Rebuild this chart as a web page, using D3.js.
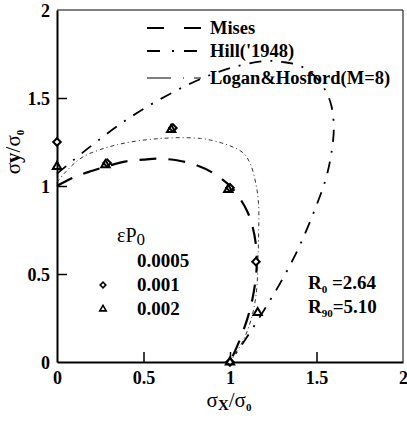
<!DOCTYPE html>
<html>
<head>
<meta charset="utf-8">
<script src="https://cdn.jsdelivr.net/npm/d3@7"></script>
<style>
  body { margin: 0; background: #fff; }
  text { font-family: "Liberation Serif", "Times New Roman", serif; }
</style>
</head>
<body>
<script>
// yield loci (sigma_x/sigma_0 , sigma_y/sigma_0)
var misesPts = [[0,1],[0.1,1.05],[0.2,1.085],[0.3,1.115],[0.4,1.14],[0.5,1.15],[0.58,1.155],[0.7,1.145],
  [0.8,1.12],[0.9,1.075],[1.0,1.0],[1.05,0.94],[1.1,0.855],[1.13,0.77],[1.15,0.665],[1.155,0.577],
  [1.15,0.485],[1.13,0.36],[1.1,0.245],[1.05,0.11],[1.0,0]];
var hillPts = [[0,1.07],[0.2,1.23],[0.4,1.375],[0.6,1.495],[0.8,1.595],[1.0,1.67],[1.2,1.71],[1.3,1.705],
  [1.4,1.685],[1.5,1.615],[1.55,1.545],[1.585,1.46],[1.6,1.33],[1.585,1.18],[1.555,1.045],[1.5,0.89],
  [1.4,0.655],[1.3,0.465],[1.2,0.3],[1.1,0.145],[1.0,0]];
var loganPts = [[0,1.02],[0.05,1.08],[0.15,1.165],[0.35,1.235],[0.6,1.27],[0.83,1.27],[0.95,1.245],
  [1.02,1.22],[1.08,1.185],[1.12,1.12],[1.15,1.01],[1.165,0.9],[1.165,0.7],[1.16,0.55],[1.155,0.42],
  [1.13,0.27],[1.08,0.13],[1.0,0]];

// experiments
var diamonds = [[0,1.25],[0.29,1.13],[0.67,1.33],[1.0,0.99],[1.15,0.57],[1.0,0]];   // 0.001
var triangles = [[0,1.11],[0.28,1.12],[0.66,1.32],[0.99,0.98],[1.16,0.28],[1.0,0]];  // 0.002

var ticks = [0, 0.5, 1, 1.5, 2];
var seriesNames = ["Mises", "Hill('1948)", "Logan&Hosford(M=8)"];
var strainLevels = ["0.0005", "0.001", "0.002"];

var width = 407, height = 421;
var x = d3.scaleLinear().domain([0, 2]).range([57, 403]);
var y = d3.scaleLinear().domain([0, 2]).range([362, 10]);

var svg = d3.select("body").append("svg")
    .attr("width", width)
    .attr("height", height);

// frame
svg.append("line").attr("x1", x(0)).attr("x2", x(2)).attr("y1", y(2)).attr("y2", y(2))
  .attr("stroke", "#000").attr("stroke-width", 1);
svg.append("line").attr("x1", x(2)).attr("x2", x(2)).attr("y1", y(2)).attr("y2", y(0))
  .attr("stroke", "#000").attr("stroke-width", 1);

var xAxis = svg.append("g")
    .attr("transform", "translate(0," + y(0) + ")")
    .call(d3.axisBottom(x).tickValues(ticks).tickSize(-10).tickSizeOuter(0).tickPadding(9)
      .tickFormat(function(d) { return d; }));
var yAxis = svg.append("g")
    .attr("transform", "translate(" + x(0) + ",0)")
    .call(d3.axisLeft(y).tickValues(ticks).tickSize(-10).tickSizeOuter(0).tickPadding(7)
      .tickFormat(function(d) { return d; }));

[xAxis, yAxis].forEach(function(a) {
  a.select(".domain").attr("stroke-width", 2);
  a.selectAll(".tick line").attr("stroke-width", 1.5);
  a.selectAll(".tick text")
    .style("font-family", "Liberation Serif")
    .style("font-weight", "bold")
    .style("font-size", "18px")
    .attr("fill", "#000");
});
yAxis.selectAll(".tick text").attr("dy", "0.36em");
xAxis.selectAll(".tick").filter(function(d) { return d == 0 || d == 2; }).select("line").remove();
yAxis.selectAll(".tick").filter(function(d) { return d == 0 || d == 2; }).select("line").remove();

var line = d3.line()
    .x(function(d) { return x(d[0]); })
    .y(function(d) { return y(d[1]); })
    .curve(d3.curveCatmullRom);

svg.append("path").datum(misesPts).attr("d", line)
  .attr("fill", "none").attr("stroke", "#000").attr("stroke-width", 2.2)
  .attr("stroke-dasharray", "17,12");
svg.append("path").datum(hillPts).attr("d", line)
  .attr("fill", "none").attr("stroke", "#000").attr("stroke-width", 1.8)
  .attr("stroke-dasharray", "12,9,2,9");
svg.append("path").datum(loganPts).attr("d", line)
  .attr("fill", "none").attr("stroke", "#333").attr("stroke-width", 1)
  .attr("stroke-dasharray", "4,3,1,3");

// diamond = square turned 45 degrees
var diamond = d3.symbol().type(d3.symbolSquare).size(28);
var triangle = d3.symbol().type(d3.symbolTriangle).size(30);

svg.selectAll(".dia").data(diamonds).enter().append("path")
  .attr("class", "dia")
  .attr("transform", function(d) { return "translate(" + x(d[0]) + "," + y(d[1]) + ") rotate(45)"; })
  .attr("d", diamond)
  .attr("fill", "#fff").attr("stroke", "#000").attr("stroke-width", 2);
svg.selectAll(".tri").data(triangles).enter().append("path")
  .attr("class", "tri")
  .attr("transform", function(d) { return "translate(" + x(d[0]) + "," + y(d[1]) + ")"; })
  .attr("d", triangle)
  .attr("fill", "none").attr("stroke", "#000").attr("stroke-width", 2);

// line legend
var legY = [28, 51, 78];
var legDash = ["17,20", "13,12,2,10", "24,12,1,10"];
var legW = [2, 1.8, 1];
seriesNames.forEach(function(name, i) {
  svg.append("line").attr("x1", 147).attr("x2", 201).attr("y1", legY[i]).attr("y2", legY[i])
    .attr("stroke", "#000").attr("stroke-width", legW[i]).attr("stroke-dasharray", legDash[i]);
  svg.append("text").attr("x", 210).attr("y", legY[i] + 6)
    .style("font-weight", "bold").style("font-size", "18.5px")
    .text(name);
});

// strain legend
var ep = svg.append("text").attr("x", 117).attr("y", 242).style("font-size", "20px");
ep.append("tspan").text("ε");
ep.append("tspan").text("P");
ep.append("tspan").attr("dy", 3).style("font-size", "17px").text("0");

var levY = [267, 291, 315];
strainLevels.forEach(function(s, i) {
  svg.append("text").attr("x", 137).attr("y", levY[i])
    .style("font-weight", "bold").style("font-size", "19px").text(s);
});
svg.append("path").attr("transform", "translate(103," + (levY[1] - 6) + ") rotate(45)")
  .attr("d", d3.symbol().type(d3.symbolSquare).size(16))
  .attr("fill", "#fff").attr("stroke", "#000").attr("stroke-width", 1.6);
svg.append("path").attr("transform", "translate(103," + (levY[2] - 6) + ")")
  .attr("d", d3.symbol().type(d3.symbolTriangle).size(18))
  .attr("fill", "none").attr("stroke", "#000").attr("stroke-width", 1.6);

// R values
var r0 = svg.append("text").attr("x", 308).attr("y", 289).style("font-weight", "bold").style("font-size", "19px");
r0.append("tspan").text("R");
r0.append("tspan").attr("dy", 4).style("font-size", "11px").text("0");
r0.append("tspan").attr("dy", -4).text(" =2.64");
var r90 = svg.append("text").attr("x", 308).attr("y", 313).style("font-weight", "bold").style("font-size", "19px");
r90.append("tspan").text("R");
r90.append("tspan").attr("dy", 4).style("font-size", "11px").text("90");
r90.append("tspan").attr("dy", -4).text("=5.10");

// axis titles
var xt = svg.append("text").attr("x", 229).attr("y", 407).attr("text-anchor", "middle")
  .style("font-size", "21px");
xt.append("tspan").text("σ");
xt.append("tspan").attr("dy", 3).style("font-weight", "bold").style("font-size", "15px").text("X");
xt.append("tspan").attr("dy", -3).text("/σ");
xt.append("tspan").attr("dy", 4).style("font-weight", "bold").style("font-size", "11px").text("0");

var yt = svg.append("text").attr("transform", "translate(20,152) rotate(-90)").attr("text-anchor", "middle")
  .style("font-size", "21px");
yt.append("tspan").text("σ");
yt.append("tspan").style("font-weight", "bold").text("y");
yt.append("tspan").text("/σ");
yt.append("tspan").attr("dy", 4).style("font-weight", "bold").style("font-size", "11px").text("0");
</script>
</body>
</html>
